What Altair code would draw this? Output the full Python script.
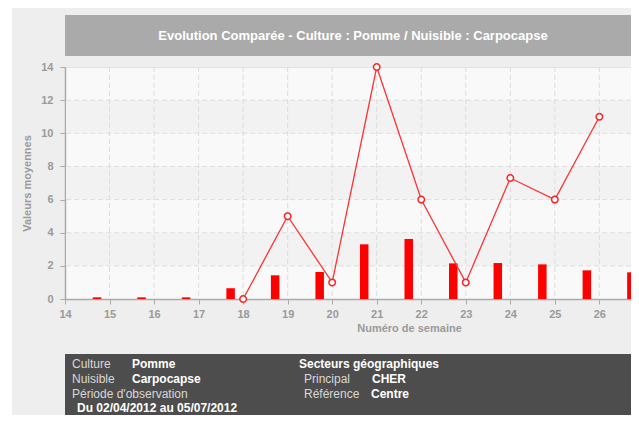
import altair as alt
import pandas as pd

# ---- data ----
bar_weeks = [15, 16, 17, 18, 19, 20, 21, 22, 23, 24, 25, 26, 27]
bar_values = [0.1, 0.1, 0.1, 0.65, 1.43, 1.63, 3.3, 3.62, 2.15, 2.17, 2.09, 1.73, 1.61]

line_weeks = [18, 19, 20, 21, 22, 23, 24, 25, 26]
line_values = [0, 5, 1, 14, 6, 1, 7.3, 6, 11]

x_ticks = list(range(14, 28))
y_ticks = list(range(0, 15, 2))
grid_x = list(range(15, 27))
grid_y = [2, 4, 6, 8, 10, 12]
band_low = [2, 6, 10]
band_high = [4, 8, 12]

title_text = "Evolution Comparée - Culture : Pomme / Nuisible : Carpocapse"
FONT = "Liberation Sans"

W, H = 566, 232
PX_PER_WEEK = 44.53

bars_df = pd.DataFrame({"week": bar_weeks, "value": bar_values})
line_df = pd.DataFrame({"week": line_weeks, "value": line_values})
gx_df = pd.DataFrame({"week": grid_x})
gy_df = pd.DataFrame({"value": grid_y})
band_df = pd.DataFrame({"value": band_low, "value2": band_high})

x_enc = alt.X(
    "week:Q",
    scale=alt.Scale(domain=[14, 14 + W / PX_PER_WEEK], nice=False, zero=False, padding=0),
    axis=alt.Axis(
        values=x_ticks, title="Numéro de semaine", grid=False, tickSize=5,
        labelPadding=4, labelFlush=False, labelOverlap=False,
        titleX=344, titleY=29, titleBaseline="middle", titleAlign="center",
    ),
)
y_enc = alt.Y(
    "value:Q",
    scale=alt.Scale(domain=[0, 14], nice=False, padding=0),
    axis=alt.Axis(
        values=y_ticks, title="Valeurs moyennes", grid=False, tickSize=5,
        labelPadding=7, titleX=-38, titleY=H / 2, titleAngle=-90,
        titleBaseline="middle", titleAlign="center",
    ),
)

one = alt.Data(values=[{"a": 1}])

def rect(x, x2, y, y2, color):
    return alt.Chart(one).mark_rect(color=color).encode(
        x=alt.value(x), x2=alt.value(x2), y=alt.value(y), y2=alt.value(y2)
    )

def txt(s, x, y, bold=False, color="#ffffff", size=12, align="left"):
    return alt.Chart(one).mark_text(
        text=s, font=FONT, fontSize=size, fontWeight="bold" if bold else "normal",
        color=color, align=align, baseline="middle",
    ).encode(x=alt.value(x), y=alt.value(y))

white_strip = rect(-57, -53, -59, 360, "#ffffff")
title_bar = rect(0, W + 10, -52, -11, "#aaaaaa")
title = txt(title_text, 288, -31, bold=True, size=13, align="center")

bands = alt.Chart(band_df).mark_rect(color="#f2f2f2").encode(
    x=alt.value(1), x2=alt.value(W + 10), y=y_enc, y2="value2:Q"
)
vgrid = alt.Chart(gx_df).mark_rule(color="#dddddd", strokeDash=[5, 3], strokeWidth=1).encode(x=x_enc)
hgrid = alt.Chart(gy_df).mark_rule(color="#dddddd", strokeDash=[5, 3], strokeWidth=1).encode(y=y_enc)

bars = alt.Chart(bars_df).mark_bar(color="#ff0000", width=8.5, xOffset=-12.5).encode(x=x_enc, y=y_enc)
line = alt.Chart(line_df).mark_line(color="#ff3333", strokeWidth=1.3).encode(x=x_enc, y=y_enc)
points = alt.Chart(line_df).mark_point(
    filled=True, fill="#ffffff", stroke="#ff2222", strokeWidth=1.5, size=42, opacity=1
).encode(x=x_enc, y=y_enc)

info_box = rect(0, W + 10, 287, 360, "#4d4d4d")
LBL = "#d8d8d8"
rows = [296.5, 311.5, 326.5, 340.5]
info = [
    txt("Culture", 7, rows[0], color=LBL),
    txt("Pomme", 67, rows[0], bold=True),
    txt("Nuisible", 7, rows[1], color=LBL),
    txt("Carpocapse", 67, rows[1], bold=True),
    txt("Période d'observation", 7, rows[2], color=LBL),
    txt("Du 02/04/2012 au 05/07/2012", 12, rows[3], bold=True),
    txt("Secteurs géographiques", 234, rows[0], bold=True),
    txt("Principal", 239, rows[1], color=LBL),
    txt("CHER", 307, rows[1], bold=True),
    txt("Référence", 239, rows[2], color=LBL),
    txt("Centre", 306, rows[2], bold=True),
]

chart = alt.layer(
    white_strip, title_bar, title, bands, vgrid, hgrid, bars, line, points, info_box, *info
).properties(
    width=W, height=H,
    autosize=alt.AutoSizeParams(type="none"),
    padding={"left": 57, "top": 59, "right": 0, "bottom": 116},
    background="#eeeeee",
).configure_view(
    fill="#f9f9f9", stroke="#e2e2e2"
).configure_axis(
    domainColor="#aaaaaa", domainWidth=1.5, tickColor="#aaaaaa", tickWidth=1,
    labelColor="#9a9a9a", labelFont=FONT, labelFontSize=11, labelFontWeight="bold",
    titleColor="#9a9a9a", titleFont=FONT, titleFontSize=11, titleFontWeight="bold",
)

chart.save("out.html", embed_options={"renderer": "svg", "actions": False})
